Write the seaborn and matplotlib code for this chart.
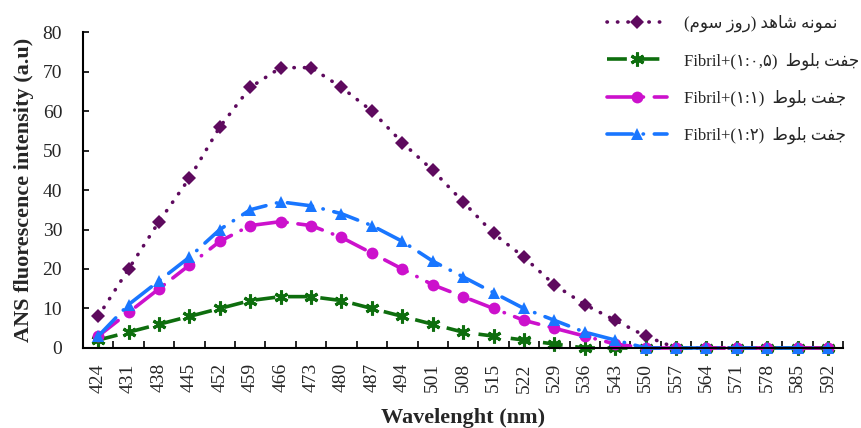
import numpy as np
import pandas as pd
import matplotlib
matplotlib.use("Agg")
import matplotlib.pyplot as plt
import seaborn as sns
from matplotlib.ticker import FixedLocator

# ---------------- data ----------------
wavelengths = [424, 431, 438, 445, 452, 459, 466, 473, 480, 487, 494, 501, 508,
               515, 522, 529, 536, 543, 550, 557, 564, 571, 578, 585, 592]
control = [8, 20, 32, 43, 56, 66, 71, 71, 66, 60, 52, 45, 37,
           29, 23, 16, 11, 7, 3, 0, 0, 0, 0, 0, 0]
fibril_1_05 = [2, 4, 6, 8, 10, 12, 13, 13, 12, 10, 8, 6, 4,
               3, 2, 1, 0, 0, 0, 0, 0, 0, 0, 0, 0]
fibril_1_1 = [3, 9, 15, 21, 27, 31, 32, 31, 28, 24, 20, 16, 13,
              10, 7, 5, 3, 1, 0, 0, 0, 0, 0, 0, 0]
fibril_1_2 = [3, 11, 17, 23, 30, 35, 37, 36, 34, 31, 27, 22, 18,
              14, 10, 7, 4, 2, 0, 0, 0, 0, 0, 0, 0]
y_ticks = [0, 10, 20, 30, 40, 50, 60, 70, 80]

# Persian label parts (logical order)
ctrl_main = "نمونه شاهد"
ctrl_sub = "روز سوم"
oak = "جفت بلوط"
ratios = ["۱:۰,۵", "۱:۱", "۱:۲"]

# ------------- minimal Arabic shaping for display -------------
FORMS = {
    'ا': ('\uFE8D', '\uFE8E', None, None),
    'ب': ('\uFE8F', '\uFE90', '\uFE91', '\uFE92'),
    'ت': ('\uFE95', '\uFE96', '\uFE97', '\uFE98'),
    'ج': ('\uFE9D', '\uFE9E', '\uFE9F', '\uFEA0'),
    'د': ('\uFEA9', '\uFEAA', None, None),
    'ر': ('\uFEAD', '\uFEAE', None, None),
    'ز': ('\uFEAF', '\uFEB0', None, None),
    'س': ('\uFEB1', '\uFEB2', '\uFEB3', '\uFEB4'),
    'ش': ('\uFEB5', '\uFEB6', '\uFEB7', '\uFEB8'),
    'ط': ('\uFEC1', '\uFEC2', '\uFEC3', '\uFEC4'),
    'ف': ('\uFED1', '\uFED2', '\uFED3', '\uFED4'),
    'ل': ('\uFEDD', '\uFEDE', '\uFEDF', '\uFEE0'),
    'م': ('\uFEE1', '\uFEE2', '\uFEE3', '\uFEE4'),
    'ن': ('\uFEE5', '\uFEE6', '\uFEE7', '\uFEE8'),
    'ه': ('\uFEE9', '\uFEEA', '\uFEEB', '\uFEEC'),
    'و': ('\uFEED', '\uFEEE', None, None),
}


def rtl(text):
    out = []
    for i, c in enumerate(text):
        if c not in FORMS:
            out.append(c)
            continue
        prev = text[i - 1] if i > 0 else None
        nxt = text[i + 1] if i + 1 < len(text) else None
        jp = prev in FORMS and FORMS[prev][2] is not None
        jn = nxt in FORMS and FORMS[c][2] is not None
        iso, fin, ini, med = FORMS[c]
        out.append(med if (jp and jn) else fin if jp else ini if jn else iso)
    return ''.join(reversed(out))


labels = ["(" + rtl(ctrl_sub) + ") " + rtl(ctrl_main)] + \
         ["Fibril+(" + r + ")  " + rtl(oak) for r in ratios]

# ---------------- plotting ----------------
sns.set_style("white")
plt.rcParams['font.family'] = ['Liberation Serif', 'DejaVu Sans']

fig = plt.figure(figsize=(8.61, 4.28), dpi=100)
ax = fig.add_axes([0.0964, 0.187, 0.883, 0.738])

pos = np.arange(len(wavelengths))
df = pd.DataFrame({"pos": pos, "c": control, "a": fibril_1_05,
                   "b": fibril_1_1, "d": fibril_1_2})

lw = 2.6
sns.lineplot(data=df, x="pos", y="c", ax=ax, color="#5E0A5E", lw=lw,
             linestyle=(0, (0.1, 2.8)), dash_capstyle="round", clip_on=False,
             marker="D", markersize=7, markeredgewidth=0, label=labels[0])
sns.lineplot(data=df, x="pos", y="a", ax=ax, color="#0E6E0E", lw=lw,
             linestyle=(0, (5.5, 3.5)), clip_on=False,
             marker=(6, 2, 0), markersize=10, markeredgewidth=2.2,
             markeredgecolor="#0E6E0E", label=labels[1])
sns.lineplot(data=df, x="pos", y="b", ax=ax, color="#CC11CC", lw=lw,
             linestyle=(0, (7, 3, 0.1, 3)), dash_capstyle="round", clip_on=False,
             marker="o", markersize=8.5, markeredgewidth=0, label=labels[2])
sns.lineplot(data=df, x="pos", y="d", ax=ax, color="#1976FF", lw=lw,
             linestyle=(0, (7, 3, 0.1, 3)), dash_capstyle="round", clip_on=False,
             marker="^", markersize=9, markeredgewidth=0, label=labels[3])

ax.set_xlim(-0.5, len(wavelengths) - 0.5)
ax.set_ylim(0, 80)
ax.set_yticks(y_ticks)
ax.set_xticks(pos)
ax.set_xticklabels([str(w) for w in wavelengths], rotation=90)
ax.xaxis.set_minor_locator(FixedLocator(np.arange(-0.5, len(wavelengths), 1.0)))
ax.tick_params(axis='x', which='major', length=0, pad=11, labelsize=14)
ax.tick_params(axis='x', which='minor', direction='in', length=5, width=1.2,
               color='black', bottom=True)
ax.tick_params(axis='y', which='major', direction='in', length=4, width=1.2,
               color='black', left=True, labelsize=14, pad=15)

for s in ['top', 'right']:
    ax.spines[s].set_visible(False)
for s in ['left', 'bottom']:
    ax.spines[s].set_color('black')
    ax.spines[s].set_linewidth(1.5)

ax.set_xlabel("Wavelenght (nm)", fontsize=16, fontweight='bold', labelpad=11)
ax.set_ylabel("ANS fluorescence intensity (a.u)", fontsize=16,
              fontweight='bold', labelpad=6)

ax.get_legend().remove()
h, l = ax.get_legend_handles_labels()
fig.legend(h, l, loc='upper left', bbox_to_anchor=(0.688, 1.0),
           frameon=False, handlelength=3.6, handletextpad=1.0,
           labelspacing=1.2, prop={'family': ['Liberation Serif', 'DejaVu Sans'],
                                   'size': 12})

fig.savefig("out.png", dpi=100)
